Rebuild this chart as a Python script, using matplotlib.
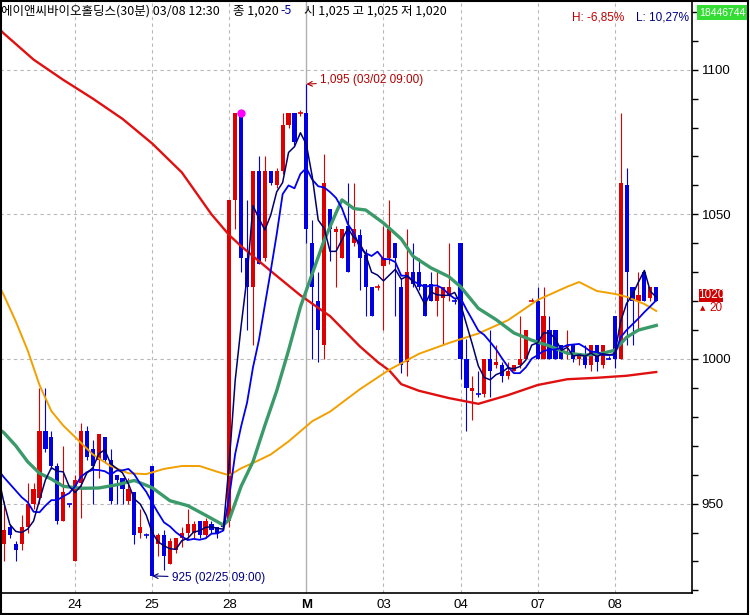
import numpy as np
import pandas as pd
import matplotlib
matplotlib.use('Agg')
import matplotlib.pyplot as plt
from matplotlib import font_manager
from matplotlib.patches import Rectangle
from matplotlib.ticker import MultipleLocator

# 30-minute bars, 02/23 .. 03/08 (bar 12 = 02/24 09:00)
opens = [936, 942, 936, 936, 942, 950, 952, 975, 973, 963, 944, 950, 930, 957, 975, 969, 965, 973, 965, 960,
         959, 951, 954, 940, 939, 963, 936, 939, 929, 934, 938, 940, 940, 944, 939, 943, 942, 943, 944, 1055,
         1085, 1035, 1025, 1065, 1035, 1065, 1060, 1065, 1081, 1085, 1085, 1085, 1040, 1020, 1005, 1052, 1044, 1035, 1046, 1040,
         1043, 1036, 1025, 1025, 1032, 1035, 1040, 1025, 999, 1030, 1030, 1026, 1026, 1020, 1021, 1022, 1020, 1040, 1000, 989,
         988, 988, 1000, 998, 998, 994, 996, 998, 1000, 1020, 1020, 1000, 1010, 1010, 1005, 1004, 1005, 1000, 1001, 998,
         1005, 998, 1000, 1015, 1000, 1060, 1025, 1020, 1030, 1021, 1025]
highs = [951, 943, 937, 946, 957, 957, 990, 990, 975, 964, 970, 950, 960, 978, 977, 972, 974, 973, 969, 960,
         959, 959, 954, 948, 940, 963, 940, 941, 938, 938, 942, 948, 944, 944, 945, 944, 942, 944, 1055, 1085,
         1085, 1055, 1065, 1070, 1070, 1065, 1066, 1085, 1085, 1085, 1086, 1095, 1048, 1030, 1071, 1052, 1046, 1045, 1061, 1061,
         1045, 1038, 1025, 1026, 1046, 1055, 1040, 1028, 1045, 1040, 1035, 1026, 1030, 1030, 1025, 1040, 1021, 1040, 1007, 994,
         996, 1000, 1010, 1005, 999, 999, 998, 1015, 1010, 1021, 1025, 1025, 1015, 1010, 1005, 1010, 1005, 1002, 1005, 1005,
         1005, 1005, 1001, 1015, 1085, 1066, 1025, 1030, 1030, 1025, 1025]
lows = [930, 938, 930, 934, 940, 948, 950, 968, 962, 943, 944, 949, 930, 945, 965, 950, 959, 964, 950, 950,
        950, 950, 936, 938, 938, 925, 932, 927, 929, 933, 935, 938, 938, 938, 938, 940, 938, 941, 942, 1045,
        1030, 1010, 1005, 1033, 1034, 1060, 1059, 1064, 1080, 1074, 1084, 1040, 1000, 999, 1000, 1034, 1025, 1035, 1030, 1039,
        1024, 1015, 1015, 1024, 1010, 1033, 1015, 995, 994, 1025, 1024, 1015, 1020, 1015, 1005, 1020, 1019, 993, 975, 979,
        987, 987, 987, 997, 992, 993, 996, 997, 1000, 1020, 1000, 1000, 1000, 1000, 1000, 1000, 999, 998, 997, 996,
        996, 997, 1000, 997, 1000, 1005, 1005, 1010, 1020, 1020, 1020]
closes = [941, 939, 934, 942, 950, 955, 975, 969, 963, 944, 954, 950, 958, 975, 966, 963, 974, 965, 951, 958,
          955, 955, 939, 942, 939, 925, 939, 932, 937, 938, 940, 943, 943, 939, 944, 941, 940, 942, 1055, 1085,
          1035, 1025, 1065, 1033, 1065, 1061, 1065, 1081, 1085, 1075, 1085, 1045, 1025, 1010, 1061, 1045, 1045, 1045, 1030, 1045,
          1035, 1025, 1015, 1025, 1035, 1045, 1035, 998, 1030, 1026, 1025, 1015, 1020, 1025, 1025, 1025, 1020, 1000, 990, 990,
          988, 1000, 996, 999, 994, 996, 998, 1000, 1010, 1020, 1000, 1015, 1000, 1000, 1000, 1005, 1000, 1002, 998, 1005,
          999, 1005, 1000, 1000, 1061, 1030, 1020, 1022, 1020, 1025, 1020]
# closes of the bars before the window (read from where the 5/10 lines start)
prev_close = [967, 962, 957, 965, 967, 988, 977, 946, 944, 944]

# longer averages (bar index, value)
ma20_idx = [-1, 0, 2, 4, 6, 8, 10, 13, 16, 19, 22, 25, 28, 31, 34, 37, 38, 40, 42, 44, 46, 48, 50, 52, 54, 56, 57,
            59, 61, 64, 67, 69, 72, 75, 77, 80, 83, 86, 89, 92, 95, 98, 101, 103, 105, 107, 110]
ma20 = [976, 974.5, 970, 964.5, 960.5, 958.5, 956, 955.3, 955.4, 956.5, 958, 955.5, 951, 949.3, 946, 942.6, 944.5,
        956, 964.5, 977, 989, 1003, 1018, 1029.5, 1041, 1050.5, 1055, 1052, 1051.5, 1047, 1041.5, 1035.5, 1031.5,
        1028.5, 1025, 1017.5, 1013.6, 1009, 1006.5, 1004.5, 1002, 1001.3, 1002, 1003, 1007.5, 1010, 1011.6]
ma60_idx = [-1, 0, 2, 4, 6, 8, 10, 12, 15, 18, 21, 24, 27, 30, 33, 36, 38, 40, 43, 45, 48, 50, 52, 55, 60, 65,
            70, 75, 78, 80, 85, 90, 95, 97, 100, 103, 105, 108, 110]
ma60 = [1026, 1022, 1013, 1003, 991, 982, 977, 973, 967, 963, 960.5, 960.2, 962, 963, 963, 961, 959.8, 962.2,
        965, 967, 971.5, 975, 978.5, 981.8, 989.5, 996.3, 1001.8, 1005.5, 1007.5, 1008.8, 1013.4, 1020.4, 1025,
        1026.6, 1023.5, 1022.5, 1021.5, 1019, 1016.6]
ma120_idx = [-1, 0, 5, 10, 15, 20, 25, 30, 35, 38, 40, 45, 50, 55, 60, 63, 65, 67, 70, 75, 80, 85, 90, 95, 100, 105, 110]
ma120 = [1114.5, 1112.5, 1103.5, 1096.5, 1090, 1083, 1074.5, 1064.5, 1050, 1042.8, 1039, 1030.4, 1022, 1014.8,
         1004.4, 999, 996, 991.3, 989, 986.5, 984.5, 987.5, 991, 993, 993.5, 994.2, 995.5]

day_labels = ['24', '25', '28', 'M', '03', '04', '07', '08']
bars_per_day = 13
first_day_bar = 12

W, H = 750, 615
RED = '#DD0000'
BLUE = '#0000E0'
GRID = '#B8B8B8'


def pick_font(names):
    for n in names:
        try:
            font_manager.findfont(font_manager.FontProperties(family=n), fallback_to_default=False)
            return n
        except Exception:
            pass
    return 'DejaVu Sans'


num_font = pick_font(['Liberation Sans Narrow', 'Liberation Sans', 'DejaVu Sans'])
kr_font = ['Noto Sans CJK KR', 'DejaVu Sans']


def fpos(x, y):
    return x / W, 1 - y / H


fig = plt.figure(figsize=(W / 100, H / 100), dpi=100)
ax = fig.add_axes([0, 22 / H, 692 / W, 593 / H])
ax.set_xlim(-0.66, 116.03)
ax.set_ylim(919.1, 1124.1)

# grid
day_pos = [first_day_bar + bars_per_day * d for d in range(len(day_labels))]
for d, xp in enumerate(day_pos):
    if day_labels[d] == 'M':
        ax.axvline(xp, color='#B0B0B0', lw=1, zorder=0)
    else:
        ax.axvline(xp, color=GRID, lw=0.8, ls=(0, (3, 3)), zorder=0)
for yp in [950, 1000, 1050, 1100]:
    ax.axhline(yp, color=GRID, lw=0.8, ls=(0, (3, 3)), zorder=0)

# candles
n = len(closes)
for i in range(n):
    o, h, l, c = opens[i], highs[i], lows[i], closes[i]
    prev = closes[i - 1] if i > 0 else prev_close[-1]
    up = c > o or (c == o and c >= prev)
    col = RED if up else BLUE
    ax.vlines(i, l, h, color=col, lw=0.8, zorder=2)
    if c == o:
        ax.hlines(c, i - 0.4, i + 0.4, color=col, lw=1.2, zorder=2)
    else:
        ax.bar(i, abs(c - o), bottom=min(o, c), width=0.7, color=col, lw=0, zorder=2)

# moving averages
all_close = pd.Series(prev_close + closes, dtype=float)
off = len(prev_close)
xs = np.arange(-off, n)
ma5 = all_close.rolling(5).mean().to_numpy()
ma10 = all_close.rolling(10).mean().to_numpy()
keep = xs >= -1

ax.plot(ma120_idx, ma120, color='#E01010', lw=1.7, zorder=3)
ax.plot(ma60_idx, ma60, color='#F2A000', lw=1.4, zorder=3)
ax.plot(ma20_idx, ma20, color='#3A9A6A', lw=2.4, zorder=3)
ax.plot(xs[keep], ma10[keep], color='#0000EE', lw=1.3, zorder=4)
ax.plot(xs[keep], ma5[keep], color='#000070', lw=1.1, zorder=4)

# peak marker
ax.plot(40, highs[40], 'o', ms=6, color='#FF00FF', mec='none', zorder=6)

# high / low notes
hi = int(np.argmax(highs))
lo = int(np.argmin(lows))
ax.annotate('1,095 (03/02 09:00)', xy=(hi, highs[hi]), xytext=(14, 4), textcoords='offset pixels',
            ha='left', va='center', color='#B00000', fontsize=8.5, family=num_font,
            arrowprops=dict(arrowstyle='->', color='#B00000', lw=0.8, shrinkA=1, shrinkB=0))
ax.annotate('925 (02/25 09:00)', xy=(lo, lows[lo]), xytext=(20, -2), textcoords='offset pixels',
            ha='left', va='center', color='#000080', fontsize=8.5, family=num_font,
            arrowprops=dict(arrowstyle='->', color='#000080', lw=0.8, shrinkA=1, shrinkB=0))

# axes
for s in ['top', 'left']:
    ax.spines[s].set_visible(False)
ax.spines['right'].set_linewidth(1.2)
ax.spines['bottom'].set_linewidth(1.2)
ax.yaxis.tick_right()
ax.set_yticks([950, 1000, 1050, 1100])
ax.yaxis.set_minor_locator(MultipleLocator(10))
ax.tick_params(axis='y', which='both', length=4, width=1, direction='out', pad=3, labelsize=9.5)
ax.set_xticks(day_pos)
ax.set_xticklabels(day_labels)
ax.tick_params(axis='x', length=0, pad=4, labelsize=9.5)
for t in ax.get_yticklabels() + ax.get_xticklabels():
    t.set_family(num_font)
ax.get_xticklabels()[3].set_fontweight('bold')

# header
fig.text(*fpos(1, 11), '에이앤씨바이오홀딩스(30분) 03/08 12:30', fontsize=9, family=kr_font, va='center')
fig.text(*fpos(233, 11), '종 1,020', fontsize=9, family=kr_font, va='center')
fig.text(*fpos(280, 11), '-5', fontsize=9, family=kr_font, va='center', color='#0000A0')
fig.text(*fpos(304, 11), '시 1,025 고 1,025 저 1,020', fontsize=9, family=kr_font, va='center')
fig.text(*fpos(572, 18), 'H: -6,85%', fontsize=8.5, family=num_font, va='center', color='#C00000')
fig.text(*fpos(636, 18), 'L: 10,27%', fontsize=8.5, family=num_font, va='center', color='#000080')

fig.patches.append(Rectangle(fpos(697, 20), 51 / W, 15 / H, transform=fig.transFigure,
                             facecolor='#33DD33', edgecolor='none'))
fig.text(*fpos(722, 12.5), '18446744', fontsize=7.5, family=num_font, va='center', ha='center', color='white')

# current price flag
fig.patches.append(Rectangle(fpos(699, 302), 24 / W, 13 / H, transform=fig.transFigure,
                             facecolor='#D00000', edgecolor='none'))
fig.text(*fpos(711, 295.5), '1020', fontsize=8.5, family=num_font, va='center', ha='center', color='white')
fig.text(*fpos(700, 308), '▲', fontsize=5, va='center', color='#D00000')
fig.text(*fpos(709, 308), '20', fontsize=8.5, family=num_font, va='center', color='#D00000')

# outer frame
fig.patches.append(Rectangle((0.5 / W, 1 / H), 1 - 2.5 / W, 1 - 1.5 / H, transform=fig.transFigure,
                             facecolor='none', edgecolor='black', lw=1.5))

fig.savefig('out.png', dpi=100)
